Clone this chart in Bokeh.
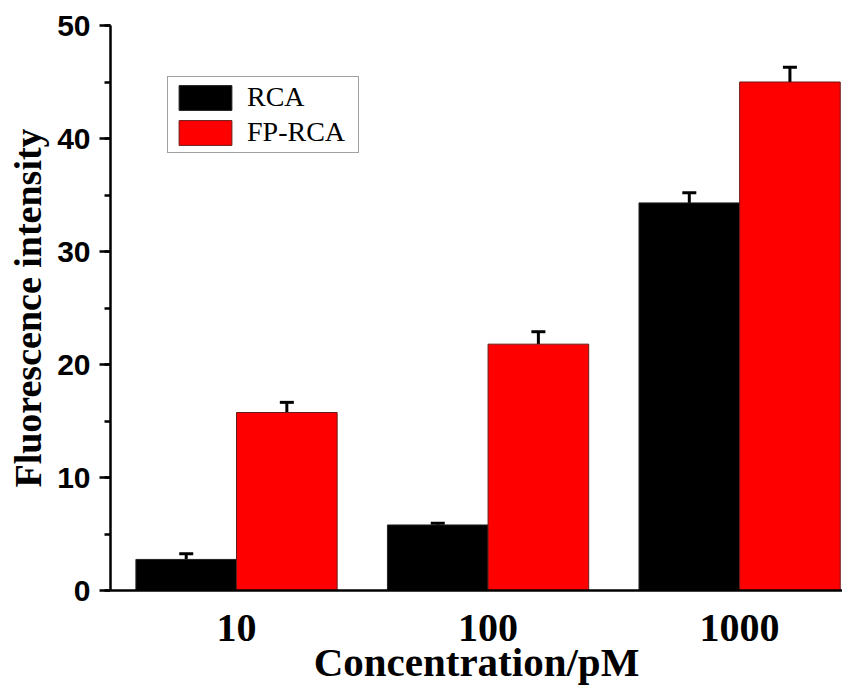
from bokeh.plotting import figure
from bokeh.models import (Range1d, FixedTicker, SingleIntervalTicker, ColumnDataSource,
                          Whisker, TeeHead, Legend, LegendItem)
from bokeh.embed import file_html
from bokeh.resources import INLINE

categories = ["10", "100", "1000"]
rca = [2.75, 5.8, 34.3]
rca_err = [0.5, 0.15, 0.9]
fp_rca = [15.75, 21.8, 45.0]
fp_rca_err = [0.9, 1.1, 1.3]
series_names = ["RCA", "FP-RCA"]

xs = list(range(1, len(categories) + 1))
bw = 0.4

p = figure(width=842, height=687, output_backend="svg", toolbar_location=None,
           x_range=Range1d(0.499, 3.409), y_range=Range1d(0, 50),
           min_border_left=110, min_border_right=0, min_border_top=25, min_border_bottom=97)
p.outline_line_color = None
p.xgrid.visible = False
p.ygrid.visible = False
p.background_fill_color = "white"
p.border_fill_color = "white"

src_a = ColumnDataSource(dict(x=[x - bw / 2 for x in xs], top=rca,
                              up=[v + e for v, e in zip(rca, rca_err)]))
src_b = ColumnDataSource(dict(x=[x + bw / 2 for x in xs], top=fp_rca,
                              up=[v + e for v, e in zip(fp_rca, fp_rca_err)]))

ra = p.vbar(x="x", top="top", bottom=0, width=bw, source=src_a,
            fill_color="black", line_color="#222222", line_width=1)
rb = p.vbar(x="x", top="top", bottom=0, width=bw, source=src_b,
            fill_color="#ff0000", line_color="#6a1a1a", line_width=1)

for src in (src_a, src_b):
    w = Whisker(base="x", upper="up", lower="top", source=src, dimension="height",
                line_color="black", line_width=3,
                upper_head=TeeHead(size=14, line_width=3, line_color="black"),
                lower_head=None)
    p.add_layout(w)

# axes
p.xaxis.ticker = FixedTicker(ticks=xs)
p.xaxis.major_label_overrides = {x: c for x, c in zip(xs, categories)}
p.xaxis.major_tick_out = 0
p.xaxis.major_tick_in = 0
p.xaxis.minor_tick_out = 0
p.xaxis.axis_line_width = 2.5
p.xaxis.major_label_text_font = "Liberation Serif"
p.xaxis.major_label_text_font_style = "bold"
p.xaxis.major_label_text_font_size = "40px"
p.xaxis.major_label_text_color = "black"
p.xaxis.major_label_standoff = 24
p.xaxis.axis_label = "Concentration/pM"
p.xaxis.axis_label_text_font = "Liberation Serif"
p.xaxis.axis_label_text_font_style = "bold"
p.xaxis.axis_label_text_font_size = "41px"
p.xaxis.axis_label_text_color = "black"
p.xaxis.axis_label_standoff = -5

p.yaxis.ticker = SingleIntervalTicker(interval=10, num_minor_ticks=2)
p.yaxis.axis_line_width = 2.5
p.yaxis.major_tick_out = 11
p.yaxis.major_tick_in = 0
p.yaxis.minor_tick_out = 6
p.yaxis.minor_tick_in = 0
p.yaxis.major_tick_line_width = 2.5
p.yaxis.minor_tick_line_width = 2.5
p.yaxis.major_label_text_font = "Liberation Sans"
p.yaxis.major_label_text_font_style = "bold"
p.yaxis.major_label_text_font_size = "30px"
p.yaxis.major_label_text_color = "black"
p.yaxis.major_label_standoff = 9
p.yaxis.axis_label = "Fluorescence intensity"
p.yaxis.axis_label_text_font = "Liberation Serif"
p.yaxis.axis_label_text_font_style = "bold"
p.yaxis.axis_label_text_font_size = "38px"
p.yaxis.axis_label_text_color = "black"
p.yaxis.axis_label_standoff = 5

legend = Legend(items=[LegendItem(label=series_names[0], renderers=[ra]),
                       LegendItem(label=series_names[1], renderers=[rb])],
                location=(57, 437), glyph_width=66, glyph_height=31,
                label_text_font="Liberation Serif", label_text_font_size="28px",
                label_text_color="black",
                label_standoff=9, padding=4, spacing=3, margin=0,
                border_line_color="#444444", border_line_width=1.5,
                label_height=31, label_width=107)
p.add_layout(legend)

open("out.html", "w").write(file_html(p, INLINE))
